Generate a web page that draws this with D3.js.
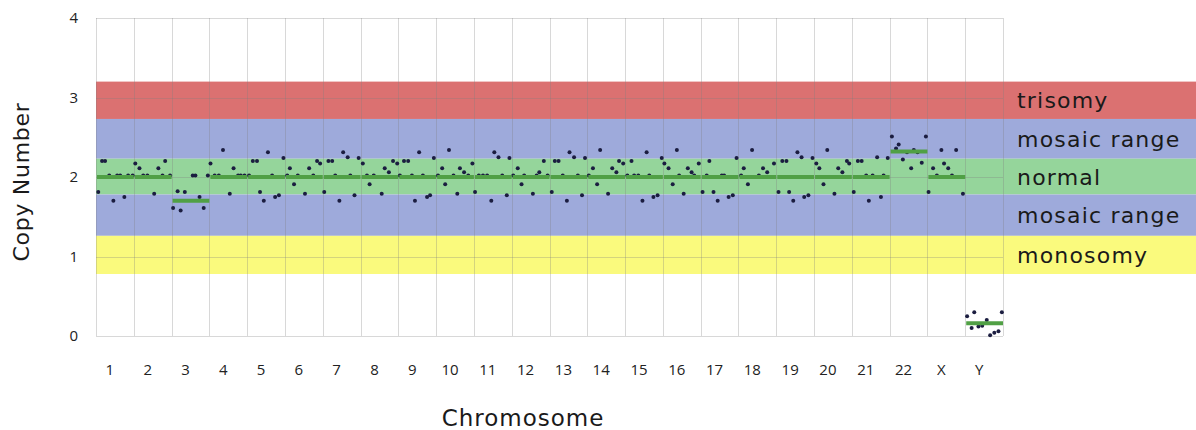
<!DOCTYPE html>
<html>
<head>
<meta charset="utf-8">
<script src="https://cdn.jsdelivr.net/npm/d3@7"></script>
<style>
  body { margin: 0; background: #fff; }
  svg { display: block; font-family: 'DejaVu Sans', 'Open Sans', sans-serif; }
</style>
</head>
<body>
<svg id="chart"></svg>
<script>
const chromosomes = ['1', '2', '3', '4', '5', '6', '7', '8', '9', '10', '11', '12',
  '13', '14', '15', '16', '17', '18', '19', '20', '21', '22', 'X', 'Y']

// segment (mean copy number) for each chromosome
const segmentLevels = [2, 2, 1.7, 2, 2, 2, 2, 2, 2, 2, 2, 2,
  2, 2, 2, 2, 2, 2, 2, 2, 2, 2.32, 2, 0.16]

// bin positions along each chromosome (percent of its length)
const binPositions = [
  [6, 16, 24, 35, 46, 56, 64, 75, 85, 97],
  [4, 15, 25, 36, 54, 65, 76, 83, 96],
  [4, 16, 24, 35, 56, 63, 74, 85, 96],
  [3, 14, 25, 36, 54, 64, 76, 83, 93],
  [5, 15, 26, 34, 44, 55, 66, 74, 84, 96],
  [6, 13, 24, 34, 53, 64, 75, 85, 93],
  [4, 15, 25, 33, 44, 54, 66, 73, 84, 95],
  [6, 17, 24, 35, 56, 64, 75, 86, 97],
  [4, 15, 26, 36, 44, 55, 65, 76, 84, 94],
  [5, 16, 24, 34, 46, 56, 63, 74, 85, 96],
  [3, 13, 24, 35, 46, 54, 65, 75, 87, 94],
  [4, 16, 26, 33, 56, 66, 73, 85, 95],
  [6, 14, 24, 35, 46, 53, 65, 75, 86, 94],
  [4, 15, 26, 34, 55, 66, 77, 84, 95],
  [6, 17, 24, 35, 46, 57, 64, 75, 86, 97],
  [4, 15, 26, 37, 43, 55, 66, 76, 83, 95],
  [5, 16, 23, 34, 45, 56, 62, 74, 85, 95],
  [7, 14, 25, 36, 54, 65, 76, 94],
  [6, 16, 27, 34, 45, 56, 67, 74, 85, 96],
  [6, 14, 25, 35, 54, 64, 75, 87, 93],
  [5, 16, 26, 38, 45, 55, 67, 77, 84, 95],
  [6, 17, 24, 35, 46, 57, 64, 74, 85, 96],
  [3, 15, 25, 37, 44, 55, 65, 76, 94],
  [5, 17, 24, 35, 45, 57, 66, 77, 88, 97]
]

// copy number of each bin
const binValues = [
  [1.81, 2.20, 2.20, 2.02, 1.70, 2.02, 2.02, 1.75, 2.02, 2.02],
  [2.17, 2.11, 2.02, 2.02, 1.79, 2.11, 2.02, 2.20, 2.02],
  [1.61, 1.82, 1.58, 1.81, 2.02, 2.02, 1.75, 1.61, 2.02],
  [2.17, 2.02, 2.02, 2.34, 1.79, 2.11, 2.02, 2.02, 2.02],
  [2.02, 2.20, 2.20, 1.81, 1.70, 2.31, 2.02, 1.75, 1.77, 2.24],
  [2.02, 2.11, 1.91, 2.02, 1.79, 2.11, 2.02, 2.20, 2.17],
  [1.81, 2.20, 2.20, 2.02, 1.70, 2.31, 2.25, 2.02, 1.77, 2.24],
  [2.17, 2.02, 1.91, 2.02, 1.79, 2.11, 2.06, 2.20, 2.17],
  [2.02, 2.20, 2.20, 2.02, 1.70, 2.31, 2.02, 1.75, 1.77, 2.24],
  [2.02, 2.11, 1.91, 2.34, 2.02, 1.79, 2.11, 2.06, 2.02, 2.17],
  [1.81, 2.02, 2.02, 2.02, 1.70, 2.31, 2.25, 2.02, 1.77, 2.24],
  [2.02, 2.11, 1.91, 2.02, 1.79, 2.02, 2.06, 2.20, 2.02],
  [1.81, 2.20, 2.20, 2.02, 1.70, 2.31, 2.25, 2.02, 1.77, 2.24],
  [2.02, 2.11, 1.91, 2.34, 1.79, 2.11, 2.06, 2.20, 2.17],
  [2.02, 2.20, 2.02, 2.02, 1.70, 2.31, 2.02, 1.75, 1.77, 2.24],
  [2.17, 2.11, 1.91, 2.34, 2.02, 1.79, 2.11, 2.06, 2.02, 2.17],
  [1.81, 2.02, 2.20, 1.81, 1.70, 2.02, 2.02, 1.75, 1.77, 2.24],
  [2.02, 2.11, 1.91, 2.34, 2.02, 2.11, 2.06, 2.17],
  [1.81, 2.20, 2.20, 1.81, 1.70, 2.31, 2.25, 1.75, 1.77, 2.24],
  [2.17, 2.11, 1.91, 2.34, 1.79, 2.11, 2.06, 2.20, 2.17],
  [1.81, 2.20, 2.20, 2.02, 1.70, 2.02, 2.25, 1.75, 2.02, 2.24],
  [2.51, 2.36, 2.41, 2.22, 2.31, 2.11, 2.34, 2.31, 2.18, 2.51],
  [1.81, 2.11, 2.02, 2.34, 2.17, 2.11, 2.02, 2.34, 1.79],
  [0.25, 0.10, 0.30, 0.12, 0.13, 0.20, 0.01, 0.04, 0.06, 0.30]
]

// interpretation ranges
const rangeLabels = ['trisomy', 'mosaic range', 'normal', 'mosaic range', 'monosomy']
const rangeLow = [2.73, 2.23, 1.78, 1.26, 0.78]
const rangeHigh = [3.2, 2.73, 2.23, 1.78, 1.26]

const yTicks = [0, 1, 2, 3, 4]

;(function () {
  const width = 1196; const height = 430
  const left = 96; const right = 1003; const top = 18; const bottom = 336

  const svg = d3.select('#chart')
    .attr('width', width)
    .attr('height', height)

  const xScale = d3.scaleBand()
    .domain(chromosomes)
    .range([left, right])

  const posScale = d3.scaleLinear()
    .domain([0, 100])
    .range([0, xScale.bandwidth()])

  const yScale = d3.scaleLinear()
    .domain([0, 4])
    .range([bottom, top])

  const rangeColor = d3.scaleOrdinal()
    .domain(['trisomy', 'mosaic range', 'normal', 'monosomy'])
    .range(['#db7171', '#9eaadb', '#95d59b', '#fafa7d'])

  const ranges = rangeLabels.map((label, i) => ({ label, low: rangeLow[i], high: rangeHigh[i] }))

  // coloured ranges, running off to the right edge
  svg.append('g')
    .selectAll('rect')
    .data(ranges)
    .enter().append('rect')
    .attr('x', left)
    .attr('width', width - left)
    .attr('y', d => yScale(d.high))
    .attr('height', d => yScale(d.low) - yScale(d.high))
    .attr('fill', d => rangeColor(d.label))

  // grid
  const grid = svg.append('g')
    .attr('stroke', '#7f7f7f')
    .attr('stroke-opacity', 0.3)
    .attr('stroke-width', 1)

  grid.selectAll('.vline')
    .data(chromosomes.map(c => xScale(c)).concat([right]))
    .enter().append('line')
    .attr('x1', d => Math.round(d) + 0.5)
    .attr('x2', d => Math.round(d) + 0.5)
    .attr('y1', top)
    .attr('y2', bottom)

  grid.selectAll('.hline')
    .data(yTicks)
    .enter().append('line')
    .attr('x1', left)
    .attr('x2', right)
    .attr('y1', d => Math.round(yScale(d)) + 0.5)
    .attr('y2', d => Math.round(yScale(d)) + 0.5)

  // bins
  const bins = []
  chromosomes.forEach((c, i) => {
    binPositions[i].forEach((p, j) => {
      bins.push({ chrom: c, pos: p, value: binValues[i][j] })
    })
  })

  svg.append('g')
    .selectAll('circle')
    .data(bins)
    .enter().append('circle')
    .attr('cx', d => xScale(d.chrom) + posScale(d.pos))
    .attr('cy', d => yScale(d.value))
    .attr('r', 2)
    .attr('fill', '#1b1d40')

  // segments
  svg.append('g')
    .selectAll('line')
    .data(chromosomes.map((c, i) => ({ chrom: c, level: segmentLevels[i] })))
    .enter().append('line')
    .attr('x1', d => xScale(d.chrom) + 1)
    .attr('x2', d => xScale(d.chrom) + xScale.bandwidth())
    .attr('y1', d => yScale(d.level))
    .attr('y2', d => yScale(d.level))
    .attr('stroke', '#50a045')
    .attr('stroke-width', 4)

  // range labels
  svg.append('g')
    .selectAll('text')
    .data(ranges)
    .enter().append('text')
    .attr('x', 1017)
    .attr('y', d => yScale((d.low + d.high) / 2))
    .attr('dy', '0.36em')
    .attr('font-size', 22)
    .attr('letter-spacing', 1.2)
    .attr('fill', '#1a1a1a')
    .text(d => d.label)

  // axes
  const yAxis = svg.append('g')
    .attr('transform', `translate(${left},0)`)
    .call(d3.axisLeft(yScale).tickValues(yTicks).tickFormat(d3.format('d')).tickSize(0).tickPadding(18))
  yAxis.select('.domain').remove()
  yAxis.selectAll('text')
    .attr('font-size', 15)
    .attr('font-family', "'Open Sans', sans-serif")
    .attr('fill', '#222')

  const xAxis = svg.append('g')
    .attr('transform', `translate(0,${bottom})`)
    .call(d3.axisBottom(xScale).tickSize(0).tickPadding(28))
  xAxis.select('.domain').remove()
  xAxis.selectAll('text')
    .attr('font-size', 15)
    .attr('font-family', "'Open Sans', sans-serif")
    .attr('fill', '#222')
    .attr('dx', -5)

  svg.append('text')
    .attr('transform', 'translate(29,182) rotate(-90)')
    .attr('text-anchor', 'middle')
    .attr('font-size', 22)
    .attr('letter-spacing', 0.7)
    .attr('fill', '#1a1a1a')
    .text('Copy Number')

  svg.append('text')
    .attr('x', 523)
    .attr('y', 426)
    .attr('text-anchor', 'middle')
    .attr('font-size', 23)
    .attr('letter-spacing', 1)
    .attr('fill', '#1a1a1a')
    .text('Chromosome')
})()
</script>
</body>
</html>
